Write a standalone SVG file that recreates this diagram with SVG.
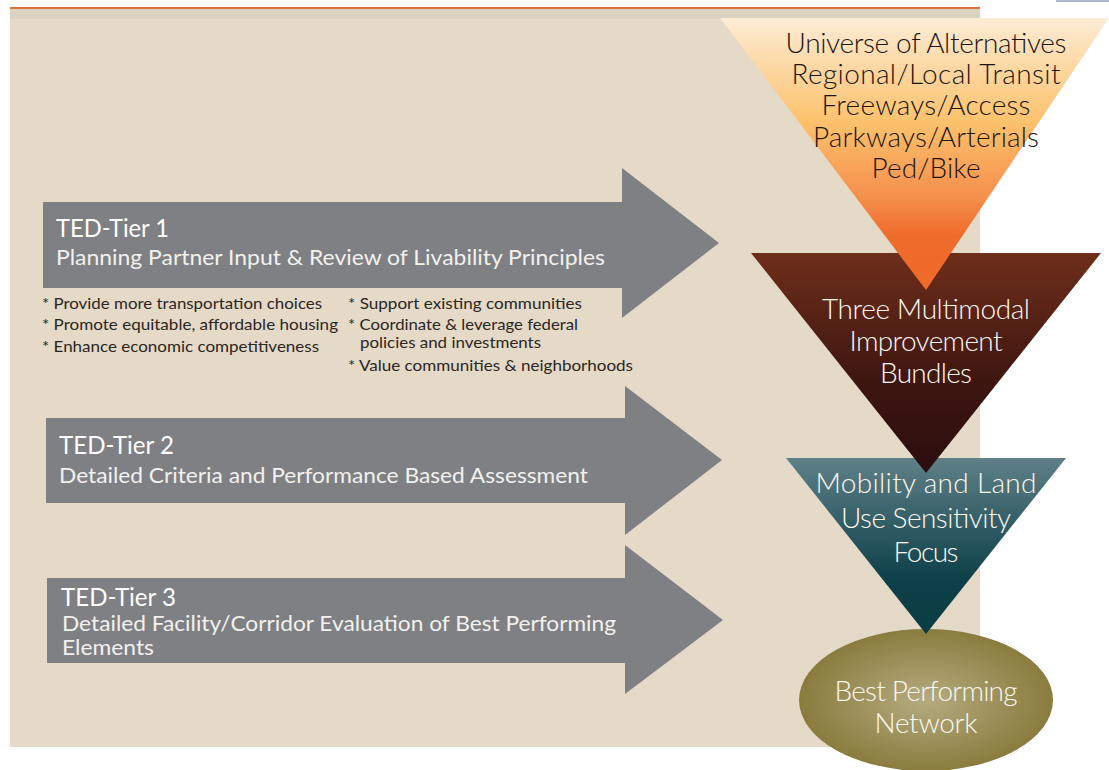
<svg xmlns="http://www.w3.org/2000/svg" width="1109" height="770" viewBox="0 0 1109 770">
<style>
.arrow{fill:#7e8083}
.h{font-family:Lato,"Open Sans",sans-serif;fill:#fff;font-size:25px}
.s{font-family:Lato,"Open Sans",sans-serif;fill:#f3f1ee;font-size:21px}
.b{font-family:Lato,"Open Sans",sans-serif;fill:#2b2622;font-size:16px}
.f{font-family:Lato,"Open Sans",sans-serif;font-weight:300;font-size:28px;text-anchor:middle}
.k{fill:#1d1512}
.w{fill:#fbf8f0}
</style>
<defs>
<linearGradient id="g1" x1="0" y1="0" x2="0" y2="1"><stop offset="0" stop-color="#fdecd6"/><stop offset=".38" stop-color="#fcc26d"/><stop offset=".66" stop-color="#f58f4c"/><stop offset=".8" stop-color="#ef6b2b"/><stop offset="1" stop-color="#f06a2a"/></linearGradient>
<linearGradient id="g2" x1="0" y1="0" x2="0" y2="1"><stop offset="0" stop-color="#6e2e1b"/><stop offset=".6" stop-color="#3d1510"/><stop offset="1" stop-color="#2a0d0e"/></linearGradient>
<linearGradient id="g3" x1="0" y1="0" x2="0" y2="1"><stop offset="0" stop-color="#5f8088"/><stop offset=".7" stop-color="#0c3f48"/><stop offset="1" stop-color="#0b3d44"/></linearGradient>
<radialGradient id="g4" cx=".5" cy=".5" r=".5"><stop offset="0" stop-color="#b5ab80"/><stop offset="1" stop-color="#8a7c3e"/></radialGradient>
</defs>
<rect width="1109" height="770" fill="#fff"/>
<rect x="1056" y="0" width="53" height="2" fill="#b4b7d0"/>
<g id="panel">
<rect x="10" y="8" width="970" height="739" fill="#e5dac8"/>
<rect x="10" y="9" width="970" height="10" fill="#dbd2c2"/>
<rect x="10" y="7" width="970" height="2" fill="#d9753a"/>
</g>
<g id="connectors">
<path id="arrow1" class="arrow" d="M43 202H622V168L719 243L622 318V288H43Z"/>
<path id="arrow2" class="arrow" d="M46 418H625V386L722 460L625 535V503H46Z"/>
<path id="arrow3" class="arrow" d="M47 578H625V545L723 620L625 694V663H47Z"/>
</g>
<g id="tier1">
<text class="h" x="56" y="237" textLength="113" lengthAdjust="spacingAndGlyphs">TED-Tier 1</text>
<text class="s" x="56" y="265" textLength="549" lengthAdjust="spacingAndGlyphs">Planning Partner Input &amp; Review of Livability Principles</text>
<text class="b" x="42" y="309" textLength="280" lengthAdjust="spacingAndGlyphs">* Provide more transportation choices</text>
<text class="b" x="42" y="330" textLength="296" lengthAdjust="spacingAndGlyphs">* Promote equitable, affordable housing</text>
<text class="b" x="42" y="352" textLength="277" lengthAdjust="spacingAndGlyphs">* Enhance economic competitiveness</text>
<text class="b" x="348" y="309" textLength="234" lengthAdjust="spacingAndGlyphs">* Support existing communities</text>
<text class="b" x="348" y="330" textLength="230" lengthAdjust="spacingAndGlyphs">* Coordinate &amp; leverage federal</text>
<text class="b" x="360" y="348" textLength="181" lengthAdjust="spacingAndGlyphs">policies and investments</text>
<text class="b" x="348" y="371" textLength="285" lengthAdjust="spacingAndGlyphs">* Value communities &amp; neighborhoods</text>
</g>
<g id="tier2">
<text class="h" x="59" y="454" textLength="115" lengthAdjust="spacingAndGlyphs">TED-Tier 2</text>
<text class="s" x="59" y="483" textLength="529" lengthAdjust="spacingAndGlyphs">Detailed Criteria and Performance Based Assessment</text>
</g>
<g id="tier3">
<text class="h" x="61" y="606" textLength="115" lengthAdjust="spacingAndGlyphs">TED-Tier 3</text>
<text class="s" x="62" y="631" textLength="554" lengthAdjust="spacingAndGlyphs">Detailed Facility/Corridor Evaluation of Best Performing</text>
<text class="s" x="62" y="655" textLength="92" lengthAdjust="spacingAndGlyphs">Elements</text>
</g>
<g id="network">
<ellipse cx="926" cy="700" rx="127" ry="71" fill="url(#g4)"/>
<text class="f w" x="926" y="701" textLength="183">Best Performing</text>
<text class="f w" x="926" y="733" textLength="103">Network</text>
</g>
<g id="focus">
<path d="M786 458H1066L926 634Z" fill="url(#g3)"/>
<text class="f w" x="926" y="493" textLength="221">Mobility and Land</text>
<text class="f w" x="926" y="528" textLength="170">Use Sensitivity</text>
<text class="f w" x="926" y="562" textLength="65">Focus</text>
</g>
<g id="bundles">
<path d="M751 253H1101L926 473Z" fill="url(#g2)"/>
<text class="f w" x="926" y="319" textLength="208">Three Multimodal</text>
<text class="f w" x="926" y="351" textLength="153">Improvement</text>
<text class="f w" x="926" y="383" textLength="92">Bundles</text>
</g>
<g id="universe">
<path d="M720 18H1109L926 290Z" fill="url(#g1)"/>
<text class="f k" x="926" y="53" textLength="281">Universe of Alternatives</text>
<text class="f k" x="926" y="84" textLength="269">Regional/Local Transit</text>
<text class="f k" x="926" y="115" textLength="209">Freeways/Access</text>
<text class="f k" x="926" y="147" textLength="226">Parkways/Arterials</text>
<text class="f k" x="926" y="178" textLength="109">Ped/Bike</text>
</g>
</svg>
